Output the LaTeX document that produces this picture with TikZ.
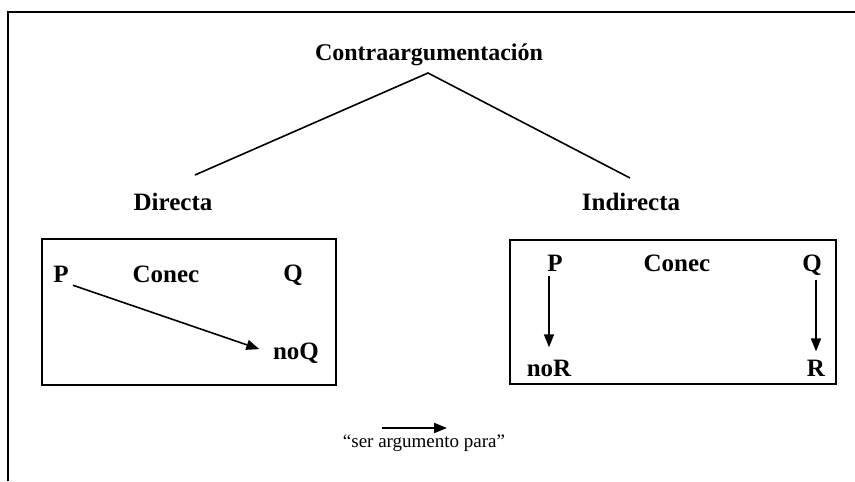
\documentclass[tikz,border=0pt]{standalone}
\usepackage{fontspec}
\setmainfont{Liberation Serif}
\usetikzlibrary{arrows.meta}

\begin{document}
\begin{tikzpicture}[x=0.5pt,y=-0.5pt,
    lbl/.style={font=\fontsize{12.5}{14}\selectfont\bfseries, inner sep=1pt},
    caja/.style={draw, line width=0.8pt},
    flecha/.style={-{Triangle[length=6.5pt,width=5pt]}, line width=0.8pt}]
  \useasboundingbox (0,0) rectangle (855,481);
  % marco recortado
  \draw[line width=0.9pt] (8,481) -- (8,12) -- (855,12);
  % arbol
  \node [lbl, font=\fontsize{12}{14}\selectfont\bfseries] (titulo) at (429,55) {Contraargumentación};
  \coordinate (vertice) at (428,73);
  \coordinate (ramaIzq) at (195,175);
  \coordinate (ramaDer) at (630,178);
  \draw [line width=0.8pt] (ramaIzq) -- (vertice) -- (ramaDer);
  \node [lbl] (directa) at (173,202) {Directa};
  \node [lbl] (indirecta) at (631,202) {Indirecta};
  % caja directa
  \draw [caja] (42,239) rectangle (336,385);
  \node [lbl] (pIzq) at (61,274) {P};
  \node [lbl] (conecIzq) at (166,274) {Conec};
  \node [lbl] (qIzq) at (293,275) {Q};
  \node [lbl] (noQ) at (296,353) {noQ};
  \draw [flecha, shorten <=1pt, shorten >=6pt] (pIzq.south east) -- (noQ.west);
  % caja indirecta
  \draw [caja] (510,240) rectangle (836,384);
  \node [lbl] (pDer) at (555,263) {P};
  \node [lbl] (conecDer) at (677,263) {Conec};
  \node [lbl] (qDer) at (812,265) {Q};
  \node [lbl] (noR) at (549,368) {noR};
  \node [lbl] (r) at (816,368) {R};
  \draw [flecha, shorten <=1pt, shorten >=5pt] (noR.north |- pDer.south) -- (noR.north);
  \draw [flecha, shorten <=1pt, shorten >=3pt] (r.north |- qDer.south) -- (r.north);
  % leyenda
  \coordinate (leyIni) at (382,428);
  \coordinate (leyFin) at (447,428);
  \draw [flecha, line width=1pt] (leyIni) -- (leyFin);
  \node [font=\fontsize{9.5}{11}\selectfont, inner sep=1pt] (leyenda) at (424,443) {“ser argumento para”};
\end{tikzpicture}
\end{document}
